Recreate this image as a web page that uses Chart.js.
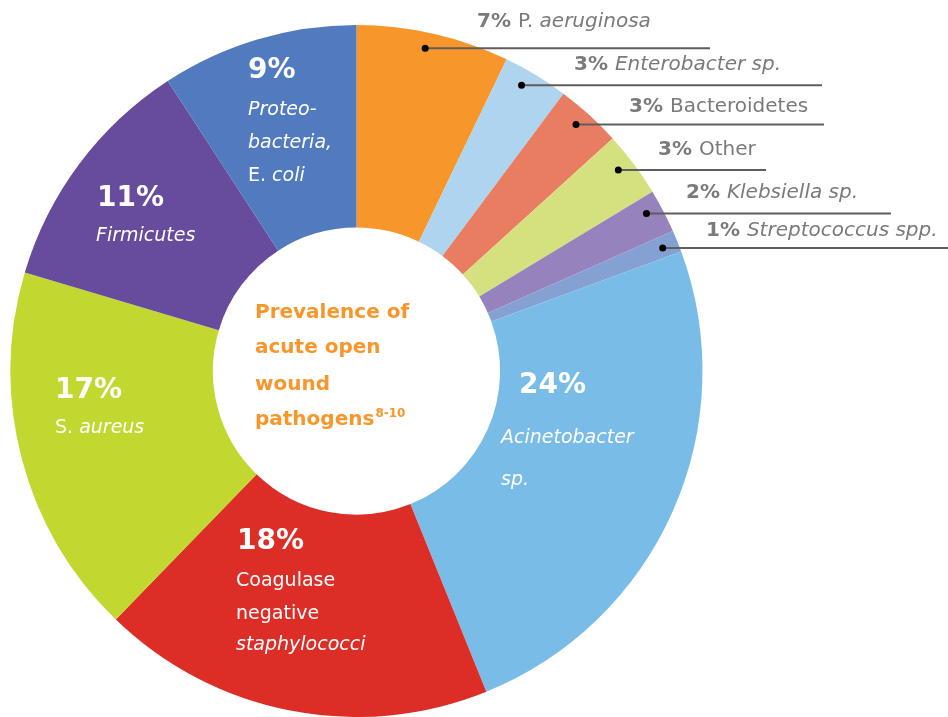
<!DOCTYPE html>
<html>
<head>
<meta charset="utf-8">
<script src="https://cdn.jsdelivr.net/npm/chart.js@4/dist/chart.umd.min.js"></script>
<style>
  html, body { margin: 0; padding: 0; background: #fff; }
  #wrap { width: 948px; height: 717px; position: relative; }
</style>
</head>
<body>
<div id="wrap"><canvas id="pathogenChart"></canvas></div>
<script>
const pathogens = [
    "P. aeruginosa", "Enterobacter sp.", "Bacteroidetes", "Other", "Klebsiella sp.",
    "Streptococcus spp.", "Acinetobacter sp.", "Coagulase negative staphylococci",
    "S. aureus", "Firmicutes", "Proteobacteria, E. coli"
];
const shares = [7, 3, 3, 3, 2, 1, 24, 18, 17, 11, 9];
const sliceColours = [
    "#f7962a", "#aed4ef", "#e87d62", "#d5e17f", "#9682bc", "#85a0d2",
    "#79bce8", "#dc2e27", "#c2d72f", "#674b9c", "#517bbe"
];

// name text split in runs: r = regular, i = italic
const nameLines = [
    [[["P. ", "r"], ["aeruginosa", "i"]]],
    [[["Enterobacter sp.", "i"]]],
    [[["Bacteroidetes", "r"]]],
    [[["Other", "r"]]],
    [[["Klebsiella sp.", "i"]]],
    [[["Streptococcus spp.", "i"]]],
    [[["Acinetobacter", "i"]], [["sp.", "i"]]],
    [[["Coagulase", "r"]], [["negative", "r"]], [["staphylococci", "i"]]],
    [[["S. ", "r"], ["aureus", "i"]]],
    [[["Firmicutes", "i"]]],
    [[["Proteo-", "i"]], [["bacteria,", "i"]], [["E. ", "r"], ["coli", "i"]]]
];
const centreLines = ["Prevalence of", "acute open", "wound", "pathogens"];
const centreSup = "8-10";

const FONT = '"DejaVu Sans", Verdana, sans-serif';

// small slices get a leader line: where the dot sits in the slice, where the text goes
const outerLayout = [
    { t: 0.467, textX: 477, textY: 27, lineEnd: 710 },
    { t: 0.39, textX: 574, textY: 70, lineEnd: 822 },
    { t: 0.45, textX: 629, textY: 112, lineEnd: 824 },
    { t: 0.43, textX: 658, textY: 155, lineEnd: 766 },
    { t: 0.37, textX: 686, textY: 198, lineEnd: 891 },
    { t: 0.54, textX: 706, textY: 236, lineEnd: 948 }
];
// big slices get white text inside: percent baseline, then name line baselines
const innerLayout = {
    6: { x: 519, y: 393, nx: 501, ny: [443, 485] },
    7: { x: 237, y: 549, nx: 236, ny: [586, 619, 650] },
    8: { x: 55, y: 398, nx: 55, ny: [433] },
    9: { x: 97, y: 206, nx: 96, ny: [241] },
    10: { x: 248, y: 78, nx: 248, ny: [115, 148, 181] }
};

function fontFor(style, size) {
    if (style === "b") return `bold ${size}px ${FONT}`;
    if (style === "i") return `italic ${size}px ${FONT}`;
    return `${size}px ${FONT}`;
}

function drawRuns(ctx, runs, x, y, size) {
    runs.forEach(([text, style]) => {
        ctx.font = fontFor(style, size);
        ctx.fillText(text, x, y);
        x += ctx.measureText(text).width;
    });
}

const labelPlugin = {
    id: "pathogenLabels",
    afterDraw(chart) {
        const ctx = chart.ctx;
        const arcs = chart.getDatasetMeta(0).data;
        ctx.save();
        ctx.textBaseline = "alphabetic";
        ctx.textAlign = "left";

        // leader lines + grey labels
        outerLayout.forEach((lay, i) => {
            const a = arcs[i].getProps(["x", "y", "startAngle", "endAngle", "outerRadius"], true);
            const ang = a.startAngle + lay.t * (a.endAngle - a.startAngle);
            const r = a.outerRadius - 16;
            const dx = a.x + r * Math.cos(ang);
            const dy = a.y + r * Math.sin(ang);

            ctx.strokeStyle = "#5e5e5e";
            ctx.lineWidth = 2;
            ctx.beginPath();
            ctx.moveTo(dx, dy);
            ctx.lineTo(lay.lineEnd, dy);
            ctx.stroke();

            ctx.fillStyle = "#000";
            ctx.beginPath();
            ctx.arc(dx, dy, 3.5, 0, Math.PI * 2);
            ctx.fill();

            ctx.fillStyle = "#7a7a7a";
            drawRuns(ctx, [[shares[i] + "% ", "b"]].concat(nameLines[i][0]), lay.textX, lay.textY, 20);
        });

        // white labels in the big slices
        ctx.fillStyle = "#ffffff";
        Object.keys(innerLayout).forEach(k => {
            const i = Number(k);
            const lay = innerLayout[k];
            ctx.font = fontFor("b", 28);
            ctx.fillText(shares[i] + "%", lay.x, lay.y);
            nameLines[i].forEach((runs, j) => drawRuns(ctx, runs, lay.nx, lay.ny[j], 19));
        });

        // centre title
        ctx.fillStyle = "#f7962a";
        const base = [318, 353, 390, 425];
        centreLines.forEach((line, j) => {
            ctx.font = fontFor("b", 20);
            ctx.fillText(line, 255, base[j]);
            if (j === centreLines.length - 1) {
                const w = ctx.measureText(line).width;
                ctx.font = fontFor("b", 12);
                ctx.fillText(centreSup, 255 + w + 1, base[j] - 8);
            }
        });
        ctx.restore();
    }
};

const ctx = document.getElementById("pathogenChart").getContext("2d");
const pathogenChart = new Chart(ctx, {
    type: "doughnut",
    data: {
        labels: pathogens,
        datasets: [{
            data: shares,
            backgroundColor: sliceColours,
            borderWidth: 0
        }]
    },
    options: {
        responsive: true,
        maintainAspectRatio: false,
        animation: false,
        cutout: "41.5%",
        layout: { padding: { left: 10, top: 25, right: 245, bottom: 0 } },
        plugins: {
            legend: { display: false },
            tooltip: { enabled: false }
        }
    },
    plugins: [labelPlugin]
});
</script>
</body>
</html>
